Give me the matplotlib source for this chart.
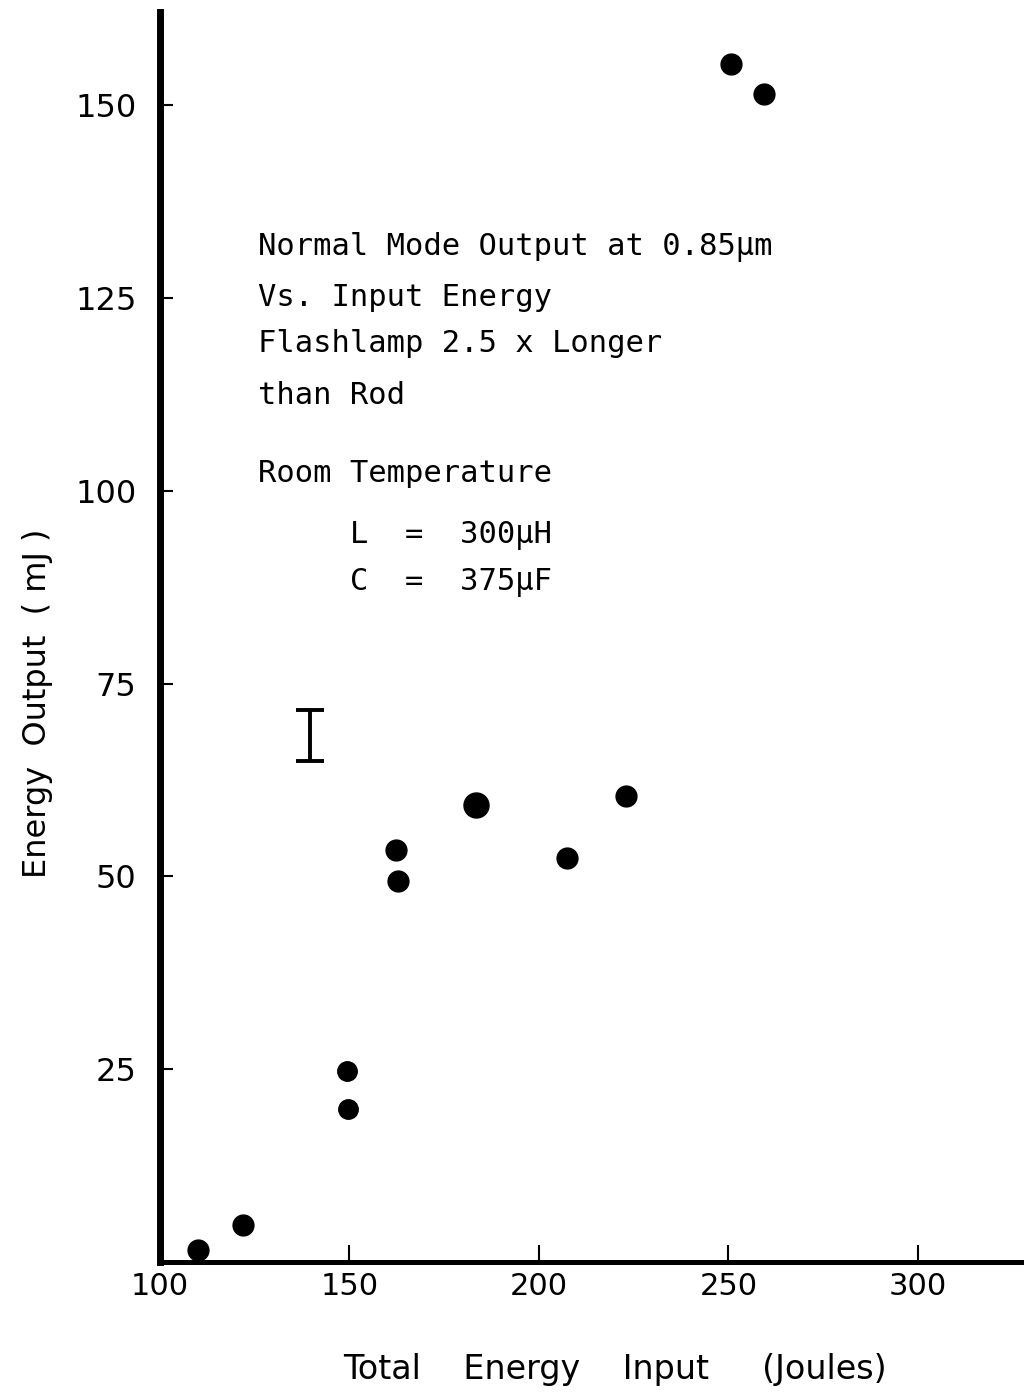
import numpy as np
import matplotlib
matplotlib.use('Agg')
import matplotlib.pyplot as pp

#%% measured points: input energy (J) vs normal mode output (mJ)
energy_in = [110.0, 121.9, 149.3, 149.6, 162.3, 162.8, 183.4, 207.4, 223.0, 250.7, 259.4]
energy_out = [1.5, 4.8, 24.8, 19.9, 53.4, 49.4, 59.2, 52.4, 60.4, 155.4, 151.5]
dot_size = [15, 15, 14, 14, 15, 15, 18, 15, 15, 15, 15]

# representative error bar
err_x = 139.6
err_y = 68.3
err_half = 3.3

xticks = [100, 150, 200, 250, 300]
yticks = [25, 50, 75, 100, 125, 150]

notes = ['Normal Mode Output at 0.85\u03bcm',
         'Vs. Input Energy',
         'Flashlamp 2.5 x Longer',
         'than Rod',
         'Room Temperature',
         '     L  =  300\u03bcH',
         '     C  =  375\u03bcF']
note_y = [247, 297, 344, 395, 473, 536, 583]

lab_font = 'DejaVu Sans'

#%% figure
fig = pp.figure(figsize=(10.24, 13.97), dpi=100)
ax = fig.add_axes([160/1024, 135/1397, 864/1024, 1250/1397])

ax.set_xlim(100, 328)
ax.set_ylim(0, 162.1)

for e_in, e_out, ms in zip(energy_in, energy_out, dot_size):
    ax.plot(e_in, e_out, 'o', color='k', ms=ms, mec='k', clip_on=False)

ax.errorbar(err_x, err_y, yerr=err_half, fmt='none', ecolor='k',
            elinewidth=2.8, capsize=10, capthick=2.8)

ax.spines['top'].set_visible(False)
ax.spines['right'].set_visible(False)
ax.spines['left'].set_linewidth(5)
ax.spines['bottom'].set_linewidth(3.6)

ax.set_xticks(xticks)
ax.set_yticks(yticks)
ax.tick_params(axis='x', direction='in', length=12, width=1.5, pad=7)
ax.tick_params(axis='y', direction='in', length=9, width=1.5, pad=17)
ax.set_xticklabels([str(t) for t in xticks], family=lab_font, fontsize=22)
ax.set_yticklabels([str(t) for t in yticks], family=lab_font, fontsize=23)

fig.text(615/1024, 1 - 1370/1397, 'Total    Energy    Input     (Joules)',
         ha='center', va='center', family=lab_font, fontsize=24)
fig.text(38/1024, 1 - 703/1397, 'Energy  Output  ( mJ )', rotation=90,
         ha='center', va='center', family=lab_font, fontsize=23)

for txt, yy in zip(notes, note_y):
    fig.text(258/1024, 1 - yy/1397, txt, ha='left', va='center',
             family='DejaVu Sans Mono', fontsize=22)

fig.savefig('out.png', format='png', dpi=100)
